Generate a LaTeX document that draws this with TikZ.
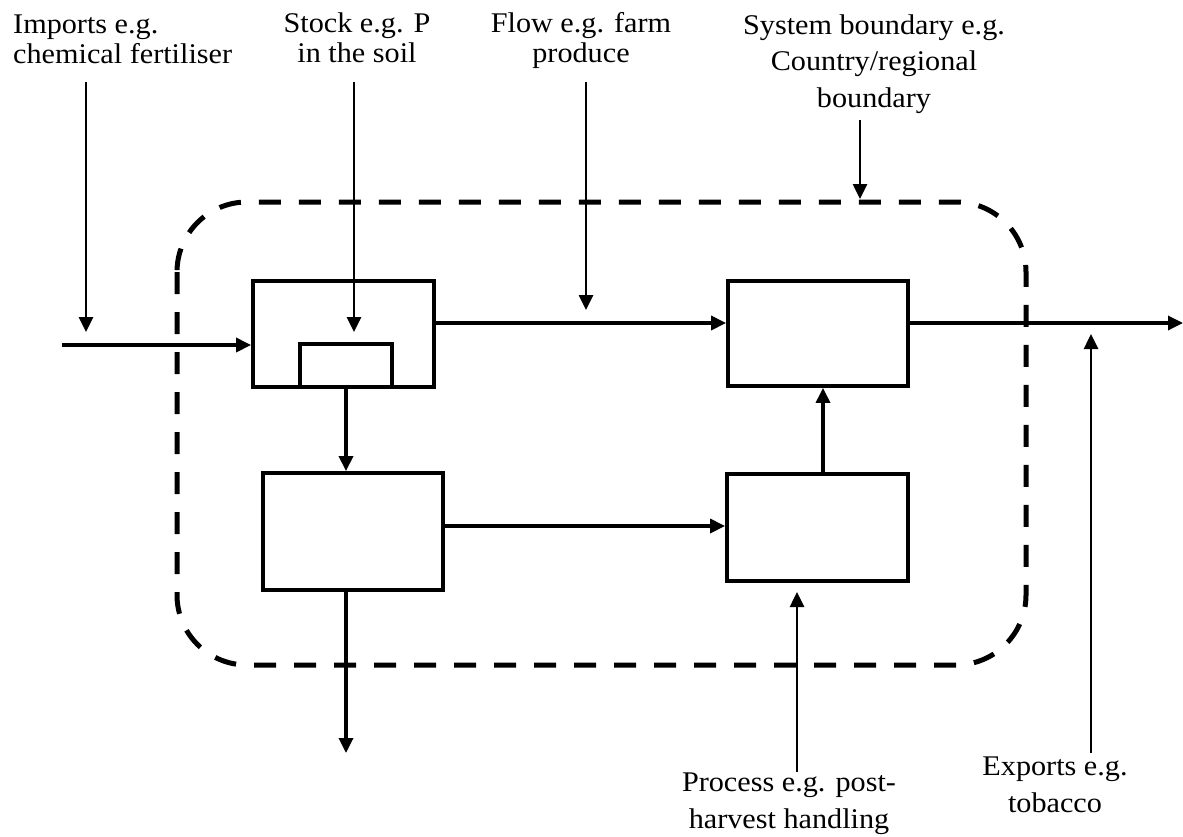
\documentclass[tikz,border=0pt]{standalone}
\usepackage{fontspec}
\setmainfont{Liberation Serif}[FakeStretch=1.06]
\usetikzlibrary{arrows.meta,calc}

\tikzset{
  box/.style={draw, line width=3.8pt, inner sep=0pt},
  flow/.style={line width=3.3pt, -{Triangle[length=15pt,width=14pt]}},
  pointer/.style={line width=2.6pt, -{Triangle[length=15pt,width=14pt]}},
  boundary/.style={line width=5pt, dash pattern=on 22pt off 18pt, rounded corners=70pt},
  lbl/.style={inner sep=0pt, font=\fontsize{28.5}{30}\selectfont},
  lblwide/.style={inner sep=0pt, font=\fontsize{28.5}{36.5}\selectfont},
}

\begin{document}
\begin{tikzpicture}[x=1pt, y=-1pt]
\useasboundingbox (0,0) rectangle (1183,836);

% system boundary
\draw[boundary] (177,202) rectangle (1026,665);

% stocks and processes
\node[box, minimum width=181pt, minimum height=106pt] (A) at (343.5,334) {};
\node[box, minimum width=92pt, minimum height=43pt] (S) at (346,365.5) {};
\node[box, minimum width=180pt, minimum height=105pt] (B) at (818,333.5) {};
\node[box, minimum width=180pt, minimum height=117pt] (C) at (353,531.5) {};
\node[box, minimum width=181pt, minimum height=107pt] (D) at (817.5,527.5) {};

% labels (base anchor sits on the last line)
\node[lbl, align=left, anchor=base west] (imp) at (13,63) {Imports e.g.\\chemical fertiliser};
\node[lbl, align=center, anchor=base] (stk) at (357,62) {Stock e.g. P\\in the soil};
\node[lbl, align=center, anchor=base] (flw) at (581,62) {Flow e.g. farm\\produce};
\node[lblwide, align=center, anchor=base] (sys) at (874,107) {System boundary e.g.\\Country/regional\\boundary};
\node[lblwide, align=center, anchor=base] (prc) at (789,828) {Process e.g. post-\\harvest handling};
\node[lblwide, align=center, anchor=base] (exp) at (1055,812) {Exports e.g.\\tobacco};

% free ends of connectors
\coordinate (inL) at (62,345);
\coordinate (outR) at (1183,323);
\coordinate (flowY) at (0,323);
\coordinate (cdY) at (0,526);
\coordinate (dbX) at (823,0);
\coordinate (loss) at (346,753);
\coordinate (impS) at (86,82);
\coordinate (impT) at (86,332);
\coordinate (stkS) at (354,82);
\coordinate (stkT) at (354,332);
\coordinate (flwS) at (586,82);
\coordinate (flwT) at (586,310);
\coordinate (sysS) at (860,120);
\coordinate (sysT) at (860,199);
\coordinate (prcS) at (797,772);
\coordinate (prcT) at (797,592);
\coordinate (expS) at (1091,753);
\coordinate (expT) at (1091,334);

% material flows
\draw[flow] (inL) -- (A.west |- inL);
\draw[flow] (A.east |- flowY) -- (B.west |- flowY);
\draw[flow] (B.east |- flowY) -- (outR);
\draw[flow] (S.south) -- (S.south |- C.north);
\draw[flow] (C.east |- cdY) -- (D.west |- cdY);
\draw[flow] (D.north -| dbX) -- (B.south -| dbX);
\draw[flow] (loss |- C.south) -- (loss);

% label pointers
\draw[pointer] (impS) -- (impT);
\draw[pointer] (stkS) -- (stkT);
\draw[pointer] (flwS) -- (flwT);
\draw[pointer] (sysS) -- (sysT);
\draw[pointer] (prcS) -- (prcT);
\draw[pointer] (expS) -- (expT);
\end{tikzpicture}
\end{document}
